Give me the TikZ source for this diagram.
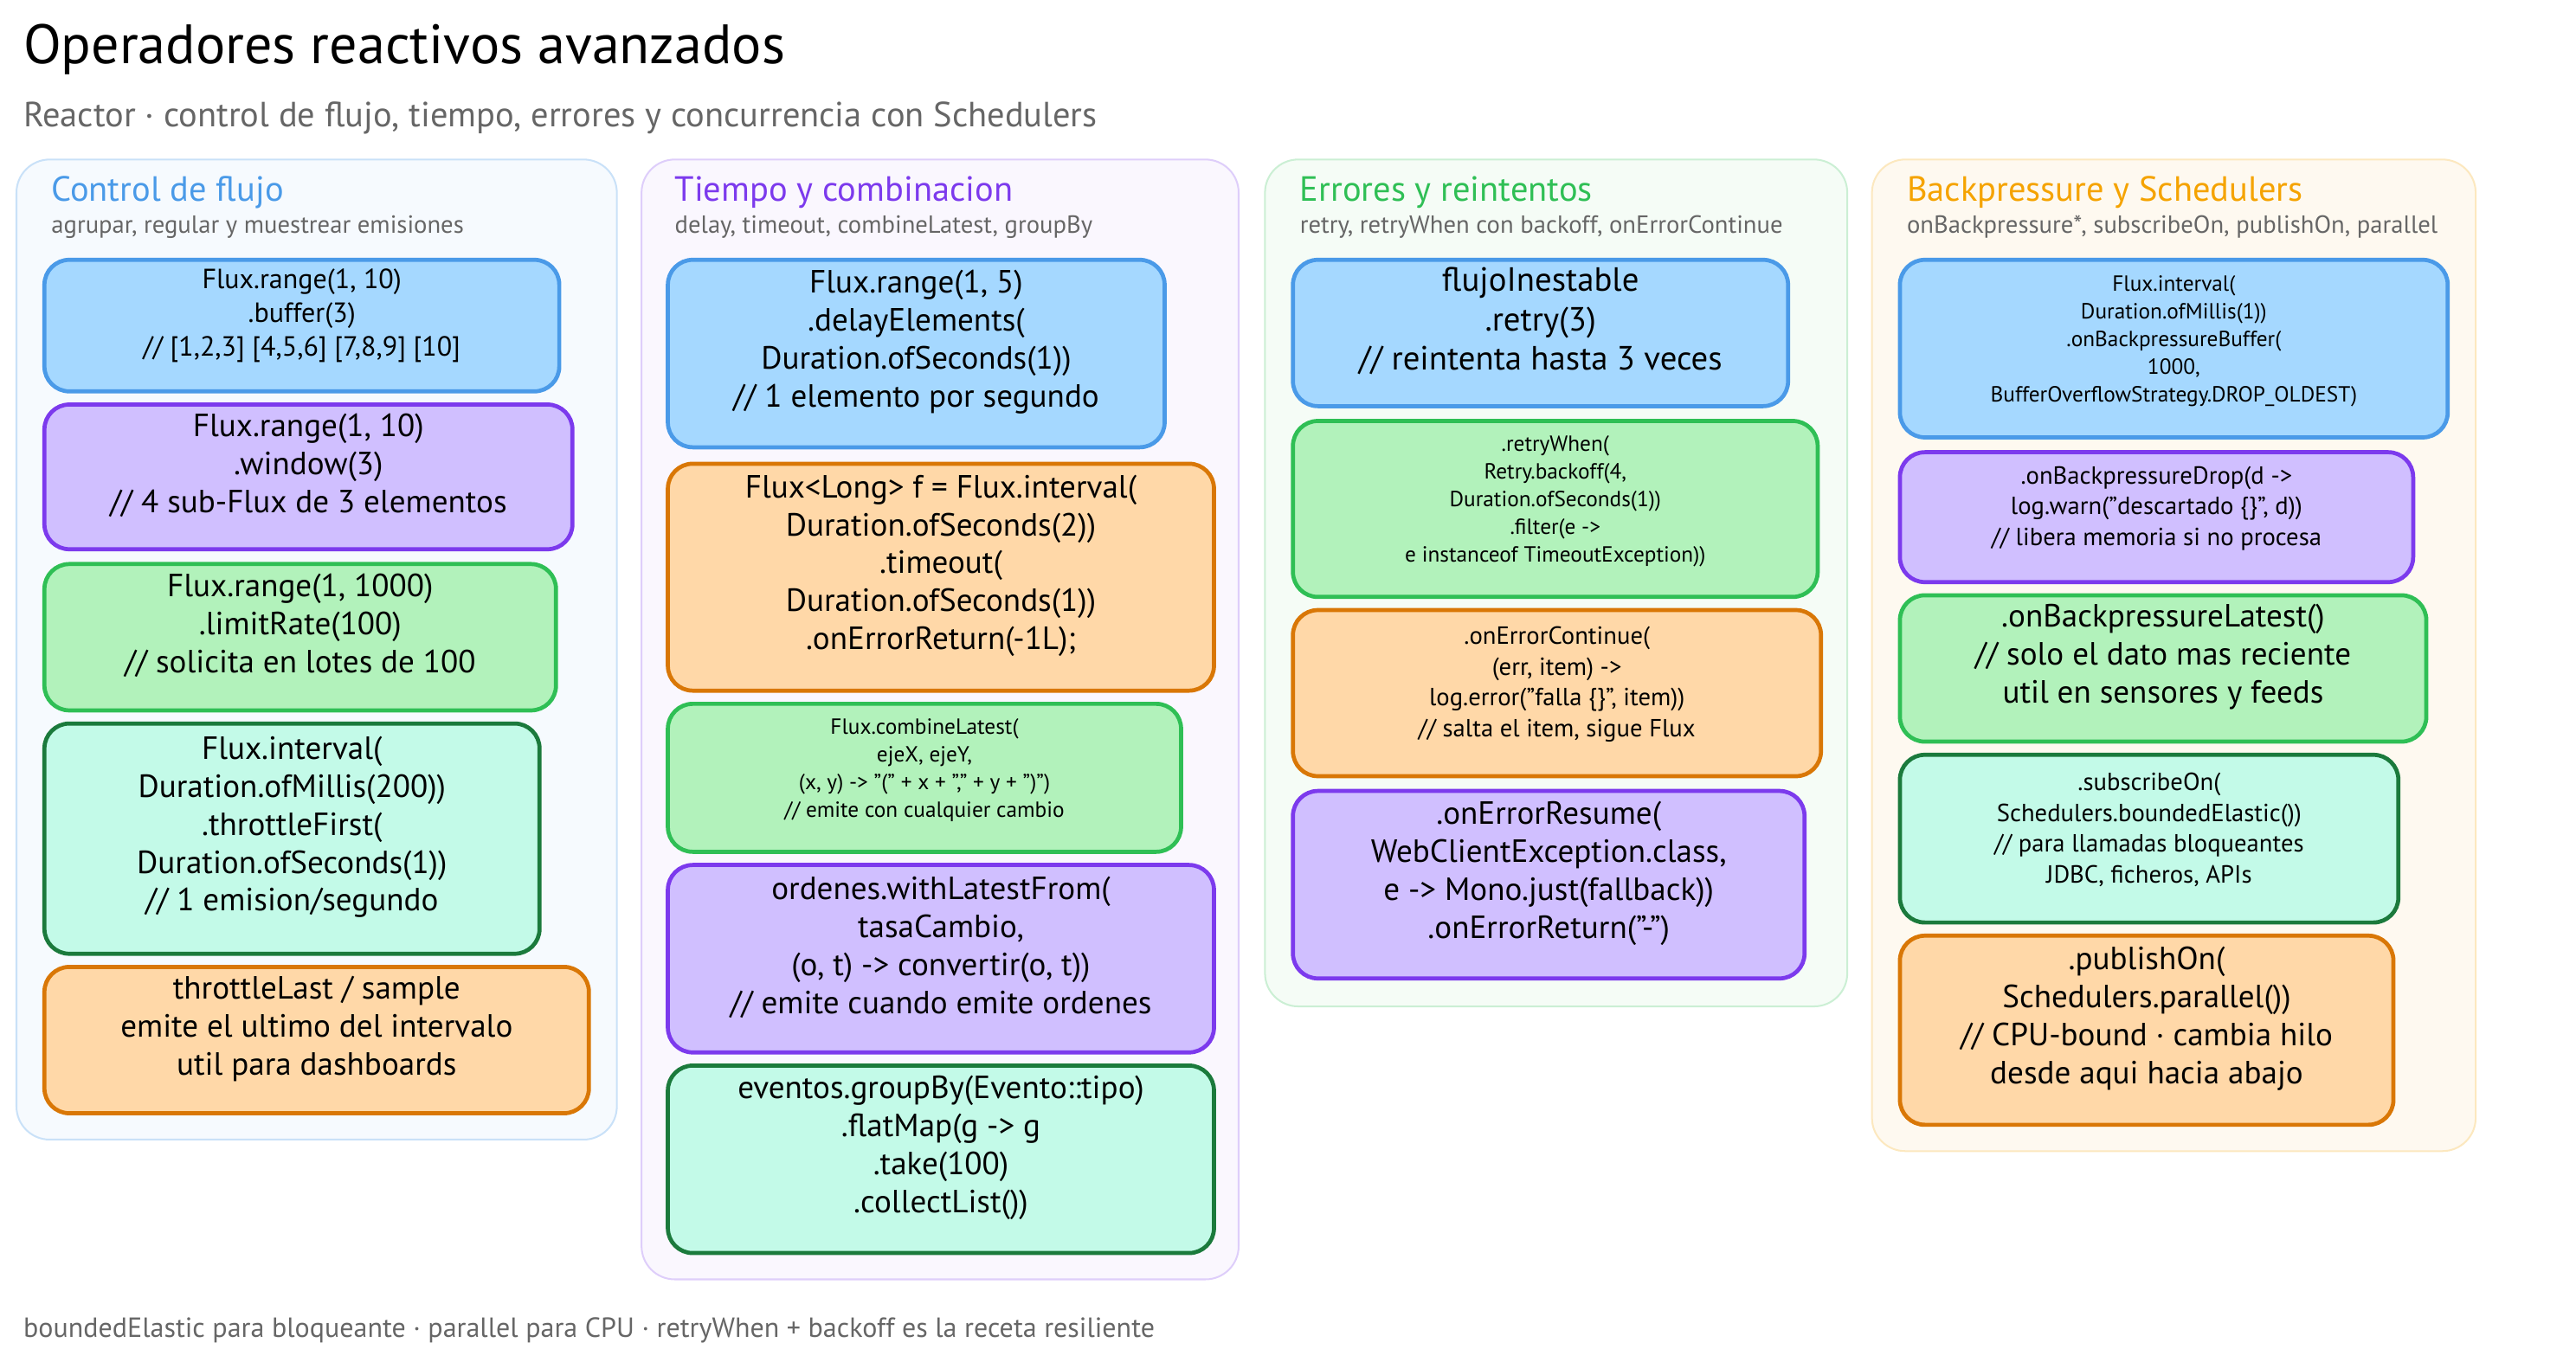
\documentclass[tikz,border=0pt]{standalone}
\usepackage{fontspec}
\setmainfont{PT Sans}
\usetikzlibrary{fit}
\definecolor{bluefill}{HTML}{A5D8FF}\definecolor{blueline}{HTML}{4A9AE8}
\definecolor{purplefill}{HTML}{D0BFFF}\definecolor{purpleline}{HTML}{7C3AED}
\definecolor{greenfill}{HTML}{B2F2BB}\definecolor{greenline}{HTML}{2FBF55}
\definecolor{tealfill}{HTML}{C3FAE8}\definecolor{tealline}{HTML}{1B7A3C}
\definecolor{orangefill}{HTML}{FFD8A8}\definecolor{orangeline}{HTML}{D97706}
\definecolor{yellowtxt}{HTML}{F5A300}
\definecolor{graytxt}{HTML}{666666}
\tikzset{
  col/.style={draw,rounded corners=0.4cm,line width=0.6pt,inner sep=0pt},
  card/.style={draw,rounded corners=0.3cm,line width=1.4pt,inner sep=0pt,align=center,font=\fontsize{11}{13}\selectfont},
  mid/.style={font=\fontsize{9.5}{11.5}\selectfont},
  small/.style={font=\fontsize{8.5}{10.5}\selectfont},
  tiny/.style={font=\fontsize{7.5}{9.5}\selectfont},
  blue/.style={fill=bluefill,draw=blueline},
  purple/.style={fill=purplefill,draw=purpleline},
  green/.style={fill=greenfill,draw=greenline},
  teal/.style={fill=tealfill,draw=tealline},
  orange/.style={fill=orangefill,draw=orangeline},
  coltitle/.style={anchor=west,font=\fontsize{12}{14}\selectfont},
  colsub/.style={anchor=west,text=graytxt,font=\fontsize{8.5}{10}\selectfont}
}
% card: name, x1, y1, x2, y2, style, text
\newcommand\card[7]{\node[card,#6,fit={(#2,#3)(#4,#5)}] (#1) {#7};}
\begin{document}
\begin{tikzpicture}[x=0.0198cm,y=-0.0198cm]
  \useasboundingbox (0,0) rectangle (1566,828);
  \node[anchor=west,font=\fontsize{19}{23}\selectfont] (title) at (8,30) {Operadores reactivos avanzados};
  \node[anchor=west,text=graytxt,font=\fontsize{12}{14}\selectfont] (subtitle) at (8,72) {Reactor · control de flujo, tiempo, errores y concurrencia con Schedulers};
  % columns
  \node[col,fill=blueline!5,draw=blueline!30,fit={(10,97)(375,693)}] (colA) {};
  \node[col,fill=purpleline!4,draw=purpleline!25,fit={(390,97)(753,778)}] (colB) {};
  \node[col,fill=greenline!5,draw=greenline!25,fit={(769,97)(1123,612)}] (colC) {};
  \node[col,fill=yellowtxt!6,draw=yellowtxt!25,fit={(1138,97)(1505,700)}] (colD) {};
  \node[coltitle,text=blueline] (tA) at (25,117) {Control de flujo};
  \node[colsub] (sA) at (25,138) {agrupar, regular y muestrear emisiones};
  \node[coltitle,text=purpleline] (tB) at (404,117) {Tiempo y combinacion};
  \node[colsub] (sB) at (404,138) {delay, timeout, combineLatest, groupBy};
  \node[coltitle,text=greenline] (tC) at (784,117) {Errores y reintentos};
  \node[colsub] (sC) at (784,138) {retry, retryWhen con backoff, onErrorContinue};
  \node[coltitle,text=yellowtxt] (tD) at (1153,117) {Backpressure y Schedulers};
  \node[colsub] (sD) at (1153,138) {onBackpressure*, subscribeOn, publishOn, parallel};
  % Control de flujo
  \card{buffer}{27}{158}{340}{238}{blue,mid}{Flux.range(1, 10)\\.buffer(3)\\// [1,2,3] [4,5,6] [7,8,9] [10]}
  \card{window}{27}{246}{348}{334}{purple}{Flux.range(1, 10)\\.window(3)\\// 4 sub-Flux de 3 elementos}
  \card{limit}{27}{343}{338}{432}{green}{Flux.range(1, 1000)\\.limitRate(100)\\// solicita en lotes de 100}
  \card{throttle}{27}{440}{328}{580}{teal}{Flux.interval(\\Duration.ofMillis(200))\\.throttleFirst(\\Duration.ofSeconds(1))\\// 1 emision/segundo}
  \card{sample}{27}{588}{358}{677}{orange}{throttleLast / sample\\emite el ultimo del intervalo\\util para dashboards}
  % Tiempo y combinacion
  \card{delay}{406}{158}{708}{272}{blue}{Flux.range(1, 5)\\.delayElements(\\Duration.ofSeconds(1))\\// 1 elemento por segundo}
  \card{timeout}{406}{282}{738}{420}{orange}{Flux<Long> f = Flux.interval(\\Duration.ofSeconds(2))\\.timeout(\\Duration.ofSeconds(1))\\.onErrorReturn(-1L);}
  \card{combine}{406}{428}{718}{518}{green,tiny}{Flux.combineLatest(\\ejeX, ejeY,\\(x, y) -> "(" + x + "," + y + ")")\\// emite con cualquier cambio}
  \card{withlatest}{406}{526}{738}{640}{purple}{ordenes.withLatestFrom(\\tasaCambio,\\(o, t) -> convertir(o, t))\\// emite cuando emite ordenes}
  \card{groupby}{406}{648}{738}{762}{teal}{eventos.groupBy(Evento::tipo)\\.flatMap(g -> g\\.take(100)\\.collectList())}
  % Errores y reintentos
  \card{retry}{786}{158}{1087}{247}{blue,font=\fontsize{11.5}{13.5}\selectfont}{flujoInestable\\.retry(3)\\// reintenta hasta 3 veces}
  \card{retrywhen}{786}{256}{1105}{363}{green,tiny}{.retryWhen(\\Retry.backoff(4,\\Duration.ofSeconds(1))\\.filter(e ->\\e instanceof TimeoutException))}
  \card{continue}{786}{371}{1107}{472}{orange,small}{.onErrorContinue(\\(err, item) ->\\log.error("falla \{\}", item))\\// salta el item, sigue Flux}
  \card{resume}{786}{481}{1097}{595}{purple}{.onErrorResume(\\WebClientException.class,\\e -> Mono.just(fallback))\\.onErrorReturn("-")}
  % Backpressure y Schedulers
  \card{bpbuffer}{1155}{158}{1488}{266}{blue,tiny}{Flux.interval(\\Duration.ofMillis(1))\\.onBackpressureBuffer(\\1000,\\BufferOverflowStrategy.DROP\_OLDEST)}
  \card{bpdrop}{1155}{275}{1467}{354}{purple,small}{.onBackpressureDrop(d ->\\log.warn("descartado \{\}", d))\\// libera memoria si no procesa}
  \card{bplatest}{1155}{362}{1475}{451}{green}{.onBackpressureLatest()\\// solo el dato mas reciente\\util en sensores y feeds}
  \card{subscribe}{1155}{459}{1458}{561}{teal,small}{.subscribeOn(\\Schedulers.boundedElastic())\\// para llamadas bloqueantes\\JDBC, ficheros, APIs}
  \card{publish}{1155}{569}{1455}{684}{orange}{.publishOn(\\Schedulers.parallel())\\// CPU-bound · cambia hilo\\desde aqui hacia abajo}
  \node[anchor=west,text=graytxt,font=\fontsize{9.5}{11}\selectfont] (footer) at (8,809) {boundedElastic para bloqueante · parallel para CPU · retryWhen + backoff es la receta resiliente};
\end{tikzpicture}
\end{document}
